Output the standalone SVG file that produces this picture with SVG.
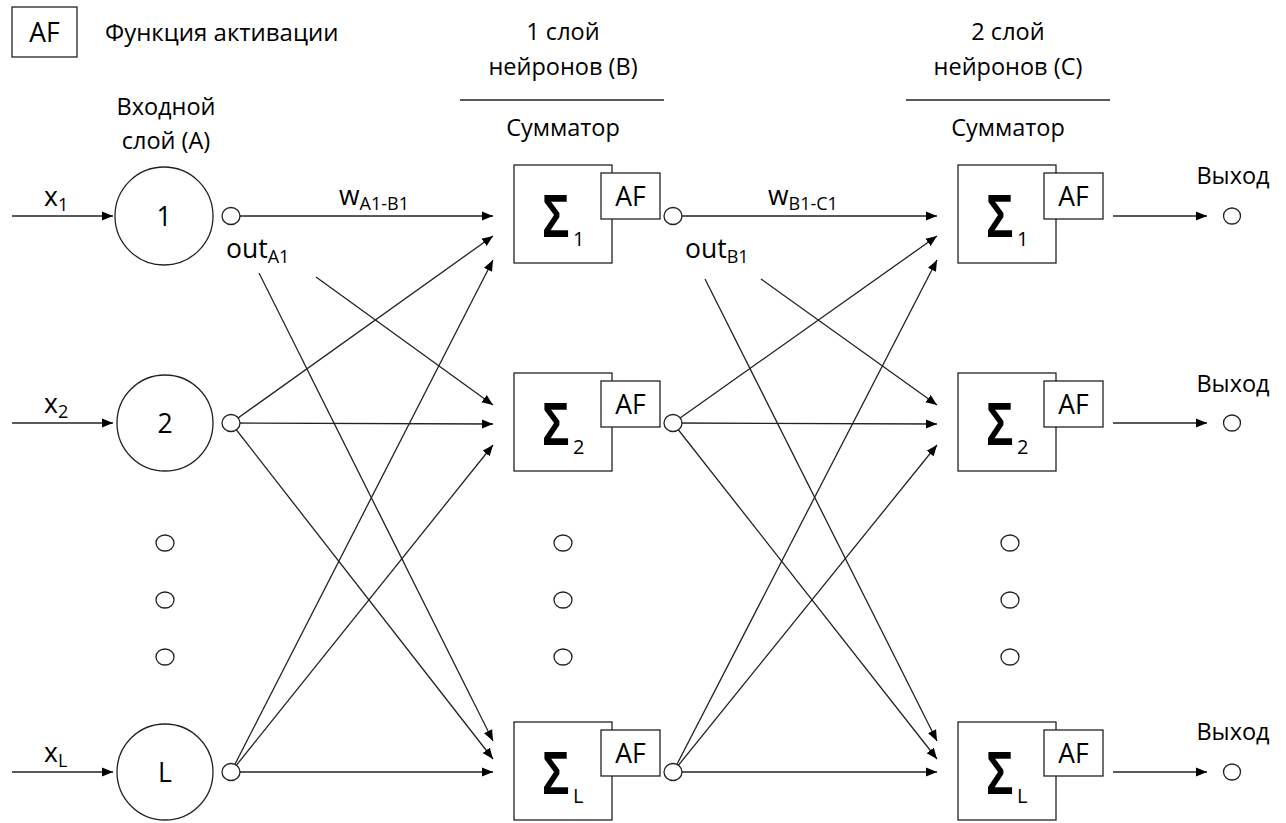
<svg xmlns="http://www.w3.org/2000/svg" width="1286" height="823" viewBox="0 0 1286 823">
<style>
text{font-family:"Open Sans","Liberation Sans",sans-serif;fill:#000}
.t{font-size:24px}
.h{font-size:23.5px}
.lb{font-size:26.5px}
.sub{font-size:18px}
.ss{font-size:20px}
.node{fill:#fff;stroke:#222;stroke-width:1.3}
.sig{font-family:"Liberation Sans",sans-serif;font-weight:bold;font-size:61px}
.con line{stroke:#222;stroke-width:1.3}
.arr{marker-end:url(#ah)}
</style>
<defs>
<marker id="ah" markerUnits="userSpaceOnUse" markerWidth="12" markerHeight="10" refX="11" refY="5" orient="auto"><path d="M0,0.5 L11,5 L0,9.5 z" fill="#000"/></marker>
</defs>
<rect width="1286" height="823" fill="#fff"/>

<g id="legend">
<rect x="12" y="7" width="65" height="50" class="node"/>
<text x="44.5" y="42" class="lb" text-anchor="middle">AF</text>
<text x="105" y="41" class="t">Функция активации</text>
</g>

<g id="headers">
<text x="166" y="115" class="h" text-anchor="middle">Входной</text>
<text x="166" y="149" class="h" text-anchor="middle">слой (A)</text>
<text x="563" y="40" class="h" text-anchor="middle">1 слой</text>
<text x="563" y="75" class="h" text-anchor="middle">нейронов (B)</text>
<line x1="460" y1="100" x2="664" y2="100" stroke="#222" stroke-width="1.3"/>
<text x="563" y="136" class="h" text-anchor="middle">Сумматор</text>
<text x="1008" y="40" class="h" text-anchor="middle">2 слой</text>
<text x="1008" y="75" class="h" text-anchor="middle">нейронов (C)</text>
<line x1="906" y1="100" x2="1110" y2="100" stroke="#222" stroke-width="1.3"/>
<text x="1008" y="136" class="h" text-anchor="middle">Сумматор</text>
</g>

<g id="connectors" class="con">
<line class="arr" x1="12" y1="216" x2="113" y2="216"/>
<line class="arr" x1="12" y1="423" x2="113" y2="423"/>
<line class="arr" x1="12" y1="772" x2="113" y2="772"/>

<line class="arr" x1="231" y1="216" x2="493" y2="216"/>
<line class="arr" x1="316" y1="277" x2="493" y2="405"/>
<line class="arr" x1="259" y1="273" x2="493" y2="741"/>
<line class="arr" x1="231" y1="423" x2="493" y2="236"/>
<line class="arr" x1="231" y1="423" x2="493" y2="424"/>
<line class="arr" x1="231" y1="423" x2="493" y2="759"/>
<line class="arr" x1="231" y1="772" x2="493" y2="260"/>
<line class="arr" x1="231" y1="772" x2="493" y2="445"/>
<line class="arr" x1="231" y1="772" x2="493" y2="772"/>

<line class="arr" x1="673" y1="216" x2="937" y2="216"/>
<line class="arr" x1="761" y1="279" x2="937" y2="405"/>
<line class="arr" x1="705" y1="279" x2="937" y2="741"/>
<line class="arr" x1="673" y1="423" x2="937" y2="236"/>
<line class="arr" x1="673" y1="423" x2="937" y2="424"/>
<line class="arr" x1="673" y1="423" x2="937" y2="759"/>
<line class="arr" x1="673" y1="772" x2="937" y2="260"/>
<line class="arr" x1="673" y1="772" x2="937" y2="445"/>
<line class="arr" x1="673" y1="772" x2="937" y2="772"/>

<line class="arr" x1="1113" y1="216" x2="1207" y2="216"/>
<line class="arr" x1="1113" y1="423" x2="1207" y2="423"/>
<line class="arr" x1="1113" y1="772" x2="1207" y2="772"/>
</g>

<g id="labels">
<text x="44" y="206" class="lb">x<tspan class="sub" dy="5">1</tspan></text>
<text x="44" y="413" class="lb">x<tspan class="sub" dy="5">2</tspan></text>
<text x="44" y="762" class="lb">x<tspan class="sub" dy="5">L</tspan></text>
<text x="339" y="205" class="lb">w<tspan class="sub" dy="5">A1-B1</tspan></text>
<text x="768" y="205" class="lb">w<tspan class="sub" dy="5">B1-C1</tspan></text>
<text x="226" y="258" class="lb">out<tspan class="sub" dy="5">A1</tspan></text>
<text x="685" y="258" class="lb">out<tspan class="sub" dy="5">B1</tspan></text>
</g>

<g id="A1"><circle cx="164" cy="216" r="49" class="node"/><text x="164" y="226" class="lb" text-anchor="middle">1</text><ellipse cx="231" cy="216" rx="9" ry="8.5" class="node"/></g>
<g id="A2"><circle cx="165" cy="423" r="48" class="node"/><text x="165" y="433" class="lb" text-anchor="middle">2</text><ellipse cx="231" cy="423" rx="9" ry="8.5" class="node"/></g>
<g id="AL"><circle cx="165" cy="772" r="48" class="node"/><text x="165" y="782" class="lb" text-anchor="middle">L</text><ellipse cx="231" cy="772" rx="9" ry="8.5" class="node"/></g>

<g id="dotsA"><ellipse cx="165" cy="543" rx="9" ry="8" class="node"/><ellipse cx="165" cy="600" rx="9" ry="8" class="node"/><ellipse cx="165" cy="657" rx="9" ry="8" class="node"/></g>
<g id="dotsB"><ellipse cx="563" cy="543" rx="9" ry="8" class="node"/><ellipse cx="563" cy="600" rx="9" ry="8" class="node"/><ellipse cx="563" cy="657" rx="9" ry="8" class="node"/></g>
<g id="dotsC"><ellipse cx="1010" cy="543" rx="9" ry="8" class="node"/><ellipse cx="1010" cy="600" rx="9" ry="8" class="node"/><ellipse cx="1010" cy="657" rx="9" ry="8" class="node"/></g>

<g id="B1"><rect x="514" y="165" width="98" height="98" class="node"/><text class="sig" transform="translate(542,237) scale(0.75,1)">Σ</text><text x="573" y="246" class="ss">1</text><rect x="601" y="173" width="59" height="46" class="node"/><text x="630.5" y="206" class="lb" text-anchor="middle">AF</text><ellipse cx="673" cy="216" rx="9" ry="8.5" class="node"/></g>
<g id="B2"><rect x="514" y="373" width="98" height="98" class="node"/><text class="sig" transform="translate(542,445) scale(0.75,1)">Σ</text><text x="573" y="454" class="ss">2</text><rect x="601" y="381" width="59" height="46" class="node"/><text x="630.5" y="414" class="lb" text-anchor="middle">AF</text><ellipse cx="673" cy="423" rx="9" ry="8.5" class="node"/></g>
<g id="BL"><rect x="514" y="722" width="98" height="98" class="node"/><text class="sig" transform="translate(542,794) scale(0.75,1)">Σ</text><text x="573" y="803" class="ss">L</text><rect x="601" y="730" width="59" height="46" class="node"/><text x="630.5" y="763" class="lb" text-anchor="middle">AF</text><ellipse cx="673" cy="772" rx="9" ry="8.5" class="node"/></g>

<g id="C1"><rect x="958" y="165" width="98" height="98" class="node"/><text class="sig" transform="translate(986,237) scale(0.75,1)">Σ</text><text x="1017" y="246" class="ss">1</text><rect x="1044" y="173" width="59" height="46" class="node"/><text x="1073.5" y="206" class="lb" text-anchor="middle">AF</text></g>
<g id="C2"><rect x="958" y="373" width="98" height="98" class="node"/><text class="sig" transform="translate(986,445) scale(0.75,1)">Σ</text><text x="1017" y="454" class="ss">2</text><rect x="1044" y="381" width="59" height="46" class="node"/><text x="1073.5" y="414" class="lb" text-anchor="middle">AF</text></g>
<g id="CL"><rect x="958" y="722" width="98" height="98" class="node"/><text class="sig" transform="translate(986,794) scale(0.75,1)">Σ</text><text x="1017" y="803" class="ss">L</text><rect x="1044" y="730" width="59" height="46" class="node"/><text x="1073.5" y="763" class="lb" text-anchor="middle">AF</text></g>

<g id="OUT1"><text x="1233" y="184" class="h" text-anchor="middle">Выход</text><ellipse cx="1232" cy="216" rx="8.5" ry="8" class="node"/></g>
<g id="OUT2"><text x="1233" y="392" class="h" text-anchor="middle">Выход</text><ellipse cx="1232" cy="423" rx="8.5" ry="8" class="node"/></g>
<g id="OUTL"><text x="1233" y="740" class="h" text-anchor="middle">Выход</text><ellipse cx="1232" cy="772" rx="8.5" ry="8" class="node"/></g>
</svg>
